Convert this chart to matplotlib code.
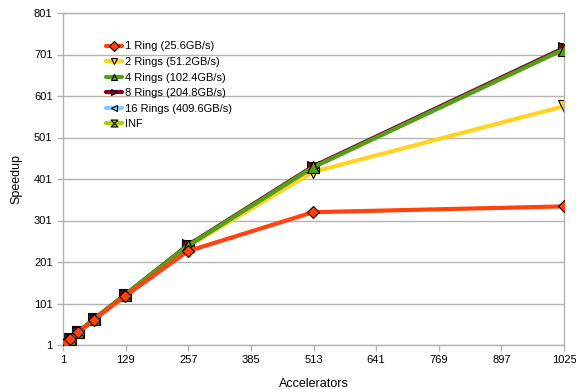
import matplotlib
matplotlib.use("Agg")
import matplotlib.pyplot as plt
from matplotlib.path import Path

plt.rcParams['font.family'] = ['Liberation Sans', 'DejaVu Sans']

accelerators = [1, 2, 4, 8, 16, 32, 64, 128, 256, 512, 1024]
series_labels = ["1 Ring (25.6GB/s)", "2 Rings (51.2GB/s)", "4 Rings (102.4GB/s)",
                 "8 Rings (204.8GB/s)", "16 Rings (409.6GB/s)", "INF"]
ring1 = [1, 2, 4, 8, 15.8, 31.5, 62, 119, 227, 321, 335]
ring2 = [1, 2, 4, 8, 15.9, 31.7, 63, 121, 238, 418, 576]
ring4 = [1, 2, 4, 8, 15.9, 31.8, 63, 122, 240, 429, 713]
ring8 = [1, 2, 4, 8, 15.9, 31.8, 63, 122, 241, 431, 716]
ring16 = [1, 2, 4, 8, 15.9, 31.8, 63, 122, 241, 431, 716]
ringinf = [1, 2, 4, 8, 15.9, 31.8, 63, 122, 241, 431, 716]
xticks = [1, 129, 257, 385, 513, 641, 769, 897, 1025]
yticks = [1, 101, 201, 301, 401, 501, 601, 701, 801]

hourglass = Path([(-1, 1), (1, 1), (-1, -1), (1, -1), (-1, 1)],
                 [Path.MOVETO, Path.LINETO, Path.LINETO, Path.LINETO, Path.CLOSEPOLY])

styles = [
    ("#ff420e", "D", 6, 6),
    ("#ffd320", "v", 8, 2),
    ("#579d1c", "^", 8, 3),
    ("#7e0021", ">", 8, 2.5),
    ("#83caff", "<", 8, 2.4),
    ("#aecf00", hourglass, 7, 2.3),
]
data = [ring1, ring2, ring4, ring8, ring16, ringinf]

fig = plt.figure(figsize=(5.76, 3.89), dpi=100)
ax = fig.add_axes([63/576, 1-345/389, (564-63)/576, (345-13)/389])

handles = []
for (color, marker, ms, z), vals, lab in zip(styles, data, series_labels):
    h, = ax.plot(accelerators, vals, color=color, lw=3.0, marker=marker, ms=ms,
                 mfc=color, mec="black", mew=0.8, label=lab, zorder=z,
                 solid_joinstyle="round", solid_capstyle="round")
    handles.append(h)

ax.set_xlim(1, 1025)
ax.set_ylim(1, 801)
ax.set_xticks(xticks)
ax.set_yticks(yticks)
ax.yaxis.grid(True, color="#b3b3b3", lw=1)
ax.set_axisbelow(True)
for s in ax.spines.values():
    s.set_color("#b3b3b3")
    s.set_linewidth(1)
ax.tick_params(colors="#b3b3b3", labelcolor="black", labelsize=8, length=4, width=1)
ax.set_xlabel("Accelerators", fontsize=9, labelpad=9)
ax.set_ylabel("Speedup", fontsize=9, labelpad=8)

leg = fig.legend(handles=handles, loc="upper left", bbox_to_anchor=(102/576, 1-37/389),
                 frameon=False, fontsize=8, handlelength=1.4, handletextpad=0.3,
                 labelspacing=0.5, borderaxespad=0)
for lh in leg.get_lines():
    lh.set_markersize(5)
    lh.set_linewidth(3)

fig.savefig("out.png", dpi=100)
